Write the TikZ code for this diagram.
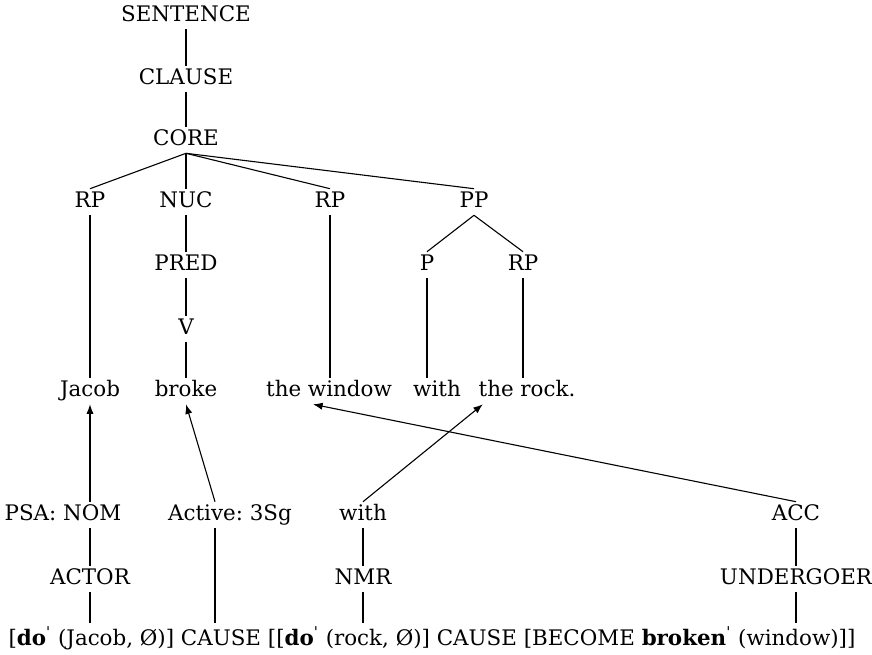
\documentclass[tikz,border=0pt]{standalone}
\usepackage{fontspec}
\setmainfont{DejaVu Serif}
\usepackage{tikz}
\usetikzlibrary{arrows.meta,calc}

\frenchspacing
\newcommand{\prm}{\textsuperscript{\textquotesingle}}
\tikzset{
  cat/.style={font=\fontsize{10.7}{12.8}\selectfont, inner sep=1.2pt, text height=8pt, text depth=2.5pt},
  link/.style={line width=0.55pt},
  arr/.style={line width=0.55pt, -{Latex[length=4.8pt,width=3.6pt]}}
}

\begin{document}
\begin{tikzpicture}[x=0.5pt,y=-0.5pt]
        \useasboundingbox (0,0) rectangle (872,654);
        % Tree
        \node[cat] (sent) at (186,16) {SENTENCE};
        \node[cat] (clause) at (186,79) {CLAUSE};
        \node[cat] (core) at (186,140) {CORE};
        \node[cat] (rpa) at (90,202) {RP};
        \node[cat] (nuc) at (186,202) {NUC};
        \node[cat] (rpb) at (330,202) {RP};
        \node[cat] (pp) at (474,202) {PP};
        \node[cat] (pred) at (186,265) {PRED};
        \node[cat] (p) at (427,265) {P};
        \node[cat] (rpc) at (523,265) {RP};
        \node[cat] (v) at (186,329) {V};
        % Sentence
        \node[cat] (jacob) at (90,391) {Jacob};
        \node[cat] (broke) at (186,391) {broke};
        \node[cat] (window) at (329,391) {the window};
        \node[cat] (with) at (437,391) {with};
        \node[cat] (rock) at (527,391) {the rock.};
        % Linking
        \node[cat] (psa) at (63,515) {PSA: NOM};
        \node[cat] (active) at (230,515) {Active: 3Sg};
        \node[cat] (withb) at (363,515) {with};
        \node[cat] (acc) at (796,515) {ACC};
        \node[cat] (actor) at (90,579) {ACTOR};
        \node[cat] (nmr) at (363,579) {NMR};
        \node[cat] (ugoer) at (796,579) {UNDERGOER};
        \node[cat, inner ysep=3pt] (lsr) at (432,640) {[\textbf{do}\prm{} (Jacob, Ø)] CAUSE [[\textbf{do}\prm{} (rock, Ø)] CAUSE [BECOME \textbf{broken}\prm{} (window)]]};
        % Branches
        \draw[link] (sent) -- (clause);
        \draw[link] (clause) -- (core);
        \foreach \n in {rpa,nuc,rpb,pp}
            \draw[link] (core.south) -- (\n.north);
        \draw[link] (nuc) -- (pred);
        \draw[link] (pred) -- (v);
        \draw[link] (v) -- (broke);
        \draw[link] (pp.south) -- (p.north);
        \draw[link] (pp.south) -- (rpc.north);
        \draw[link] (rpa) -- (jacob);
        \draw[link] (rpb.south) -- (rpb.south |- window.north);
        \draw[link] (p.south) -- (p.south |- with.north);
        \draw[link] (rpc.south) -- (rpc.south |- rock.north);
        % Arrows
        \draw[arr] (psa.north -| jacob) -- (jacob.south);
        \draw[arr] ([xshift=-7.5pt]active.north) -- (broke.south);
        \draw[arr] (withb.north) -- ([xshift=3.5pt]rock.south west);
        \draw[arr] (acc.north) -- ([xshift=-8pt]window.south);
        % Lower links
        \draw[link] (psa.south -| actor) -- (actor.north);
        \draw[link] (actor.south) -- (actor.south |- lsr.north);
        \draw[link] ([xshift=-7.5pt]active.south) -- ([xshift=-7.5pt]active.south |- lsr.north);
        \draw[link] (withb) -- (nmr);
        \draw[link] (nmr.south) -- (nmr.south |- lsr.north);
        \draw[link] (acc) -- (ugoer);
        \draw[link] (ugoer.south) -- (ugoer.south |- lsr.north);
    \end{tikzpicture}
\end{document}
